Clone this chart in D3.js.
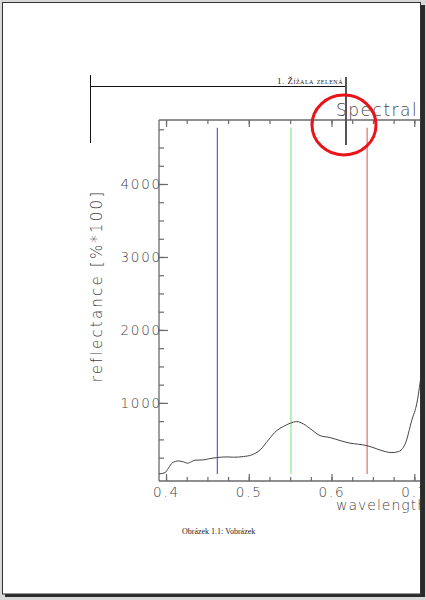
<!DOCTYPE html>
<html>
<head>
<meta charset="utf-8">
<script src="https://cdn.jsdelivr.net/npm/d3@7"></script>
<style>
  body { margin: 0; background: #d8d8d8; }
  text { font-family: "DejaVu Sans", sans-serif; }
</style>
</head>
<body>
<div id="canvas"></div>
<script>
// spectral profile
const wavelengths = [0.3915, 0.3988, 0.4028, 0.408, 0.4149, 0.421, 0.4258, 0.431, 0.435, 0.445, 0.453, 0.4613,
  0.4734, 0.4814, 0.4935, 0.5036, 0.5137, 0.5237, 0.5338, 0.5418, 0.550, 0.558, 0.566, 0.5762, 0.5862, 0.5983,
  0.6104, 0.6225, 0.6325, 0.6427, 0.6548, 0.6648, 0.6729, 0.6809, 0.689, 0.6971, 0.7031, 0.7092, 0.72];
const reflectance = [27, 45, 105, 183, 205, 192, 174, 196, 215, 219, 237, 251,
  260, 256, 265, 288, 356, 493, 621, 676, 722, 744, 712, 630, 552, 525,
  484, 448, 434, 415, 370, 333, 319, 333, 438, 767, 996, 1452, 2300];

// band markers (blue, green, red)
const bandWavelengths = [0.462, 0.551, 0.643];
const bandColors = ["#5a5ae6", "#86ea86", "#e86a6a"];
const bandRange = [27, 4770];

const xTicks = [0.4, 0.5, 0.6, 0.7, 0.8, 0.9];
const yTicks = [1000, 2000, 3000, 4000];

const svg = d3.select("#canvas").append("svg")
  .attr("width", 426)
  .attr("height", 600);

// page with shadow
svg.append("rect").attr("x", 5).attr("y", 5).attr("width", 420).attr("height", 592).attr("fill", "#2b2b2b");
svg.append("rect").attr("x", 2.5).attr("y", 2.5).attr("width", 418).attr("height", 591.5)
  .attr("fill", "#fff").attr("stroke", "#333").attr("stroke-width", 1);

svg.append("clipPath").attr("id", "page")
  .append("rect").attr("x", 3).attr("y", 3).attr("width", 417).attr("height", 590);

const page = svg.append("g").attr("clip-path", "url(#page)");

// header rule and text
page.append("line").attr("x1", 90.5).attr("x2", 346).attr("y1", 86.5).attr("y2", 86.5)
  .attr("stroke", "#111").attr("stroke-width", 1);
page.append("line").attr("x1", 90.5).attr("x2", 90.5).attr("y1", 75).attr("y2", 143)
  .attr("stroke", "#111").attr("stroke-width", 1);
page.append("text")
  .attr("x", 343).attr("y", 84)
  .attr("text-anchor", "end")
  .style("font-family", "'Liberation Serif', 'DejaVu Serif', serif")
  .style("font-size", "9px")
  .style("font-variant", "small-caps")
  .style("letter-spacing", "0.5px")
  .style("fill", "#222")
  .text("1. Žížala zelená");

const x = d3.scaleLinear().domain([0.3915, 0.98]).range([159, 646]);
const y = d3.scaleLinear().domain([-70, 4877]).range([481, 120]);

const axisColor = "#6a6a6a";
const textColor = "#444";
const g = page.append("g");

// frame lines (left, top, bottom)
g.append("line").attr("x1", 159).attr("x2", 159).attr("y1", 120).attr("y2", 481).attr("stroke", axisColor).attr("stroke-width", 1.3);
g.append("line").attr("x1", 159).attr("x2", 646).attr("y1", 120).attr("y2", 120).attr("stroke", axisColor).attr("stroke-width", 1.3);
g.append("line").attr("x1", 159).attr("x2", 646).attr("y1", 481).attr("y2", 481).attr("stroke", axisColor).attr("stroke-width", 1.3);

const xMinor = d3.range(0.4, 0.98, 0.025);
const yMinor = d3.range(250, 4877, 250);

// bottom axis
const xb = g.append("g").attr("transform", "translate(0,481)")
  .call(d3.axisBottom(x).tickValues(xMinor).tickSize(-4).tickFormat(""));
xb.select(".domain").remove();
const xbMajor = g.append("g").attr("transform", "translate(0,481)")
  .call(d3.axisBottom(x).tickValues(xTicks).tickSize(-7).tickPadding(6).tickFormat(d3.format(".1f")));
xbMajor.select(".domain").remove();

// top axis
const xt = g.append("g").attr("transform", "translate(0,120)")
  .call(d3.axisTop(x).tickValues(xMinor).tickSize(-4).tickFormat(""));
xt.select(".domain").remove();
const xtMajor = g.append("g").attr("transform", "translate(0,120)")
  .call(d3.axisTop(x).tickValues(xTicks).tickSize(-7).tickFormat(""));
xtMajor.select(".domain").remove();

// left axis
const yl = g.append("g").attr("transform", "translate(159,0)")
  .call(d3.axisLeft(y).tickValues(yMinor).tickSize(-5).tickFormat(""));
yl.select(".domain").remove();
const ylMajor = g.append("g").attr("transform", "translate(159,0)")
  .call(d3.axisLeft(y).tickValues(yTicks).tickSize(-9).tickPadding(6).tickFormat(d3.format("d")));
ylMajor.select(".domain").remove();

g.selectAll(".tick line").attr("stroke", axisColor).attr("stroke-width", 1.2);
g.selectAll(".tick text")
  .attr("fill", textColor)
  .style("font-size", "13.5px")
  .style("font-weight", "200")
  .style("letter-spacing", "1.8px");
ylMajor.selectAll(".tick text").attr("x", 3).attr("dy", "0.35em");

// band lines
bandWavelengths.forEach((w, i) => {
  g.append("line")
    .attr("x1", x(w)).attr("x2", x(w))
    .attr("y1", y(bandRange[0])).attr("y2", y(bandRange[1]))
    .attr("stroke", bandColors[i])
    .attr("stroke-width", 1.2);
});

// profile
const line = d3.line().x((d, i) => x(wavelengths[i])).y(d => y(d)).curve(d3.curveMonotoneX);
g.append("path")
  .datum(reflectance)
  .attr("fill", "none")
  .attr("stroke", "#444")
  .attr("stroke-width", 1)
  .attr("d", line);

// title and labels
g.append("text")
  .attr("x", 336).attr("y", 116)
  .attr("fill", textColor)
  .style("font-size", "17px")
  .style("font-weight", "200")
  .style("letter-spacing", "1.5px")
  .text("Spectral Profile");

g.append("text")
  .attr("x", 336).attr("y", 510)
  .attr("fill", textColor)
  .style("font-size", "14px")
  .style("font-weight", "200")
  .style("letter-spacing", "1px")
  .text("wavelength");

g.append("text")
  .attr("transform", "translate(102,286) rotate(-90)")
  .attr("text-anchor", "middle")
  .attr("fill", textColor)
  .style("font-size", "15px")
  .style("font-weight", "200")
  .style("letter-spacing", "2.2px")
  .text("reflectance [%*100]");

// marker over the title
page.append("line").attr("x1", 346).attr("x2", 346).attr("y1", 77).attr("y2", 145)
  .attr("stroke", "#555").attr("stroke-width", 2);
page.append("ellipse")
  .attr("cx", 344).attr("cy", 125).attr("rx", 32).attr("ry", 30)
  .attr("fill", "none").attr("stroke", "#e8141a").attr("stroke-width", 3);

// caption
page.append("text")
  .attr("x", 182).attr("y", 534)
  .style("font-family", "'Liberation Serif', 'DejaVu Serif', serif")
  .style("font-size", "8px")
  .style("fill", "#222")
  .text("Obrázek 1.1: Vobrázek");
</script>
</body>
</html>
